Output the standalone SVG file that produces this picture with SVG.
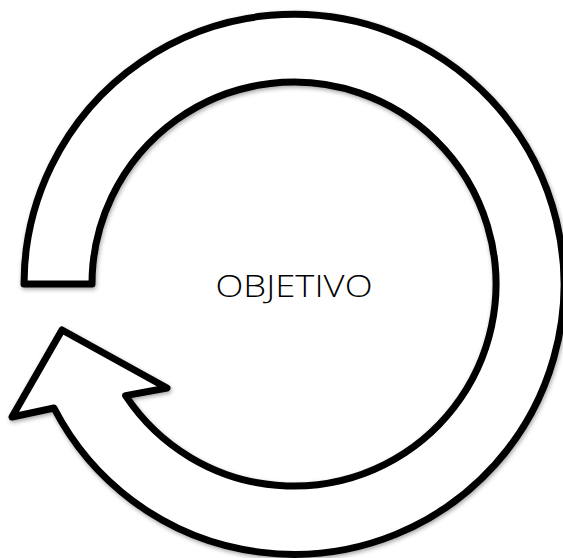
<svg xmlns="http://www.w3.org/2000/svg" width="563" height="558" viewBox="0 0 563 558">
  <defs>
    <filter id="shadow" x="-10%" y="-10%" width="120%" height="120%">
      <feDropShadow dx="1" dy="2" stdDeviation="2" flood-color="#000" flood-opacity="0.35"/>
    </filter>
  </defs>
  <style>
    .ring { fill: #fff; stroke: #000; stroke-width: 7; stroke-linejoin: round; filter: url(#shadow); }
    .label { font-family: "Open Sans", "DejaVu Sans", "Liberation Sans", Arial, sans-serif; font-weight: 300; font-size: 32px; fill: #000; text-anchor: middle; }
  </style>
  <rect width="563" height="558" fill="#fff"/>
  <g id="cycle-arrow">
    <path class="ring" d="M 24 284 A 270 270 0 1 1 54 408 L 12 417 L 62 330 L 167 388 L 125.6 395.6 A 202 202 0 1 0 92 284 Z"/>
  </g>
  <g id="objetivo">
    <text class="label" x="294" y="297" textLength="157" lengthAdjust="spacingAndGlyphs">OBJETIVO</text>
  </g>
  <g id="connectors"/>
</svg>
